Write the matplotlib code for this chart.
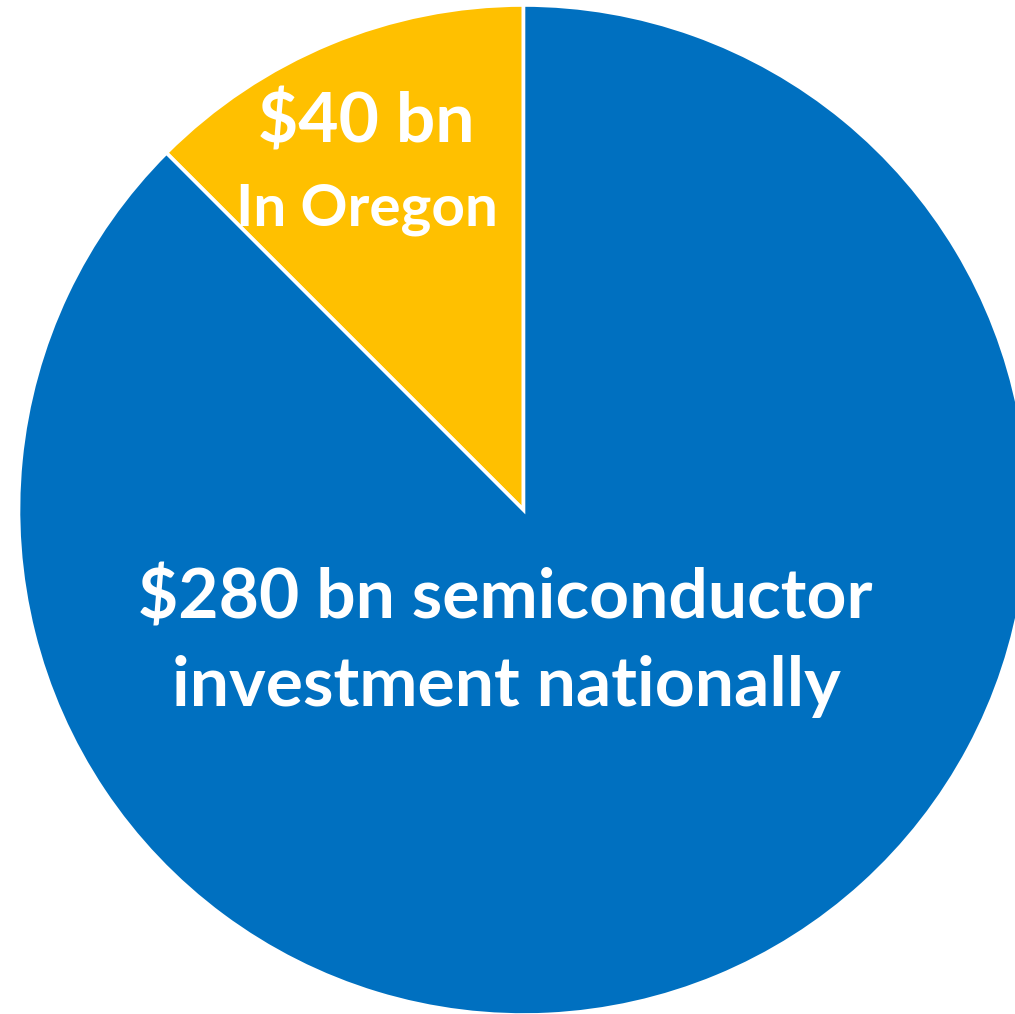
import matplotlib
matplotlib.use("Agg")
import matplotlib.pyplot as plt

# Investment figures (US$ billions)
segments = ["Oregon", "National"]
values = [40, 280]
colors = ["#FFC000", "#0070C0"]

W, H = 1015, 1014
fig = plt.figure(figsize=(W / 100, H / 100), dpi=100)
ax = fig.add_axes([0, 0, 1, 1])

cx, cy, r = 523.5, 510, 505  # pie centre / radius in pixels
ax.pie(values, colors=colors, startangle=90, counterclock=True,
       radius=1.0, center=(0, 0),
       wedgeprops=dict(edgecolor="white", linewidth=2.6))

ax.set_xlim(-cx / r, (W - cx) / r)
ax.set_ylim(-(H - cy) / r, cy / r)
ax.set_aspect("equal")
ax.axis("off")


def px(x, y):
    return (x - cx) / r, (cy - y) / r


font = "Lato"
ax.text(*px(366, 122), "$40 bn", ha="center", va="center", color="white",
        fontsize=50, fontweight="bold", family=font)
ax.text(*px(367, 209), "In Oregon", ha="center", va="center", color="white",
        fontsize=42, fontweight="bold", family=font)
ax.text(*px(505, 598), "$280 bn semiconductor", ha="center", va="center",
        color="white", fontsize=50, fontweight="bold", family=font)
ax.text(*px(506, 686), "investment nationally", ha="center", va="center",
        color="white", fontsize=50, fontweight="bold", family=font)

fig.savefig("out.png", dpi=100)
